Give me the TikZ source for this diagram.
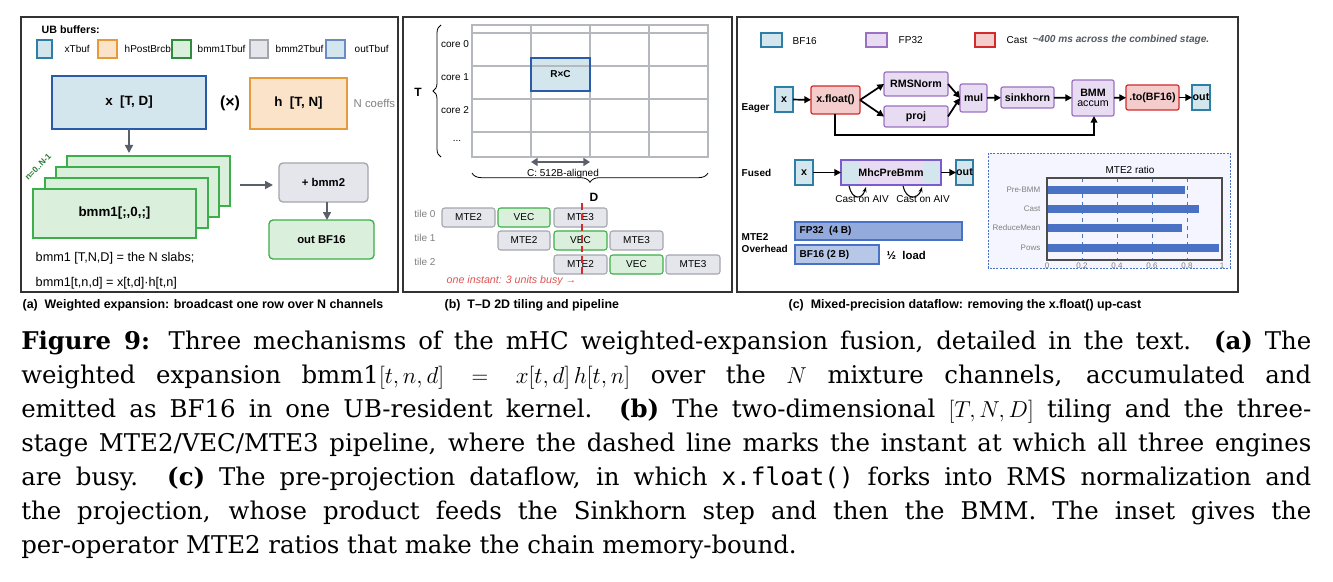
\documentclass[tikz,border=0pt]{standalone}
\usepackage{fontspec}
\setmainfont{DejaVu Serif}
\newfontfamily\lsans{Liberation Sans}
\usetikzlibrary{arrows.meta,decorations.pathreplacing,calc}
\definecolor{blueF}{HTML}{D3E6EE}\definecolor{blueD}{HTML}{2E7EA6}\definecolor{xD}{HTML}{2A5BA8}
\definecolor{orF}{HTML}{FBE3C9}\definecolor{orD}{HTML}{E79A3A}
\definecolor{grF}{HTML}{DAF0DC}\definecolor{grD}{HTML}{3CAE4A}
\definecolor{gyF}{HTML}{E4E6EB}\definecolor{gyD}{HTML}{A2A6AD}
\definecolor{puF}{HTML}{E8DCF2}\definecolor{puD}{HTML}{9B72C2}
\definecolor{rdF}{HTML}{F4CCCC}\definecolor{rdD}{HTML}{D42A2A}
\definecolor{barD}{HTML}{4A72C4}\definecolor{arr}{HTML}{5A606A}
\definecolor{txtG}{HTML}{555A62}
\newcommand\bx[7]{\node[#6,inner sep=0pt,outer sep=0pt,minimum width={(#4-#2)*0.75pt},minimum height={(#5-#3)*0.75pt}] (#1) at ({(#2+#4)/2},{(#3+#5)/2}) {#7};}
\tikzset{
 sm/.style={font=\lsans\fontsize{7.5}{9}\selectfont},
 frame/.style={draw=black!80,line width=0.8pt},
 leg/.style={draw,line width=0.9pt},
 bb/.style={font=\lsans\bfseries\fontsize{8}{9}\selectfont,line width=0.9pt},
 blue/.style={bb,fill=blueF,draw=blueD},
 pur/.style={bb,fill=puF,draw=puD,rounded corners=1.5pt},
 red/.style={bb,fill=rdF,draw=rdD,rounded corners=1.5pt},
 pipe/.style={font=\lsans\fontsize{7.5}{9}\selectfont,rounded corners=2pt,line width=0.8pt},
 pg/.style={pipe,fill=gyF,draw=gyD},
 pv/.style={pipe,fill=grF,draw=grD},
 ga/.style={draw=arr,line width=1.2pt,-{Triangle[length=6pt,width=6pt]}},
 ka/.style={draw=black,line width=1.3pt,-{Triangle[length=5pt,width=5pt]}},
 subcap/.style={font=\lsans\bfseries\fontsize{9.3}{10}\selectfont,anchor=west},
}
\begin{document}
\begin{tikzpicture}[x=0.75pt,y=-0.75pt]
\useasboundingbox[fill=white] (0,0) rectangle (1333,581);
% ================= panel a
\draw[frame] (21,17) rectangle (398,292);
\node[anchor=west,font=\lsans\bfseries\fontsize{8}{9}\selectfont] (ubt) at (37,30) {UB buffers:};
\bx{l1}{37}{40}{52}{58}{leg,fill=blueF,draw=blueD}{}
\node[sm,anchor=west] (l1t) at (60,49) {xTbuf};
\bx{l2}{98}{40}{117}{58}{leg,fill=orF,draw=orD}{}
\node[sm,anchor=west] (l2t) at (120,49) {hPostBrcb};
\bx{l3}{172}{40}{191}{58}{leg,fill=grF,draw=grD!80!black}{}
\node[sm,anchor=west] (l3t) at (193,49) {bmm1Tbuf};
\bx{l4}{250}{40}{268}{58}{leg,fill=gyF,draw=gyD}{}
\node[sm,anchor=west] (l4t) at (271,49) {bmm2Tbuf};
\bx{l5}{326}{40}{345}{58}{leg,fill=blueF,draw=xD!70}{}
\node[sm,anchor=west] (l5t) at (350,49) {outTbuf};
\bx{xb}{52}{76}{206}{129}{fill=blueF,draw=xD,line width=1pt,font=\lsans\bfseries\fontsize{10}{12}\selectfont}{x\ \ [T, D]}
\node[font=\lsans\bfseries\fontsize{12}{14}\selectfont] (tim) at (230,103) {(×)};
\bx{hb}{250}{78}{347}{129}{fill=orF,draw=orD,line width=1pt,font=\lsans\bfseries\fontsize{10}{12}\selectfont}{h\ \ [T, N]}
\node[anchor=west,text=gray,font=\lsans\fontsize{8.5}{10}\selectfont] (nco) at (349,103) {N coeffs};
\bx{s4}{67}{156}{230}{206}{fill=grF,draw=grD,line width=1pt}{}
\bx{s3}{56}{167}{219}{217}{fill=grF,draw=grD,line width=1pt}{}
\bx{s2}{45}{178}{208}{228}{fill=grF,draw=grD,line width=1pt}{}
\bx{s1}{33}{189}{196}{238}{fill=grF,draw=grD,line width=1pt,font=\lsans\bfseries\fontsize{10}{12}\selectfont}{bmm1[;,0,;]}
\node[rotate=45,font=\lsans\bfseries\fontsize{6.3}{8}\selectfont,text=grD!70!black,inner sep=0pt] (nlab) at (38,167) {n=0..N-1};
\draw[ga] (xb.south -| 129,0) -- (129,153);
\coordinate (aS) at (240,185);
\bx{b2}{279}{163}{368}{202}{fill=gyF,draw=gyD,line width=1pt,rounded corners=3pt,font=\lsans\bfseries\fontsize{8.5}{10}\selectfont}{+ bmm2}
\draw[ga] (aS) -- ($(b2.west |- aS)+(-6,0)$);
\bx{ob}{269}{220}{374}{259}{fill=grF,draw=grD,line width=1pt,rounded corners=3pt,font=\lsans\bfseries\fontsize{8.5}{10}\selectfont}{out BF16}
\draw[ga] (b2.south -| 327,0) -- (ob.north -| 327,0);
\node[anchor=west,font=\lsans\fontsize{9.5}{10}\selectfont] (ta1) at (31,258) {bmm1 [T,N,D] = the N slabs;};
\node[anchor=west,font=\lsans\fontsize{9.5}{10}\selectfont] (ta2) at (31,283) {bmm1[t,n,d] = x[t,d]·h[t,n]};
\node[subcap] (ca) at (18,305) {(a)\ \ Weighted expansion: broadcast one row over N channels};
% ================= panel b
\draw[frame] (403,17) rectangle (732,292);
\fill[blueF] (531,58) rectangle (590,91);
\draw[gyD!80,line width=0.8pt] (472,25) grid[xstep=59,ystep=-33] (708,157);
\draw[gyD!80,line width=1.1pt] (472,25) rectangle (708,157);
\bx{rc}{531}{58}{590}{91}{draw=xD,line width=1.5pt,font=\lsans\bfseries\fontsize{7.5}{9}\selectfont}{R×C}
\node[sm] (c0) at (455,44) {core 0};
\node[sm] (c1) at (455,77) {core 1};
\node[sm] (c2) at (455,110) {core 2};
\node[sm] (c3) at (457,141) {...};
\draw[decorate,decoration={brace,amplitude=6pt},line width=0.6pt] (441,157) -- (441,25);
\node[font=\lsans\bfseries\fontsize{9}{10}\selectfont] (T) at (418,92) {T};
\coordinate (da) at (531,162); \coordinate (db) at (590,162);
\draw[draw=arr,line width=1.3pt,{Triangle[length=5pt,width=6pt]}-{Triangle[length=5pt,width=6pt]}] (da) -- (db);
\node[sm] (c512) at (563,174) {C: 512B-aligned};
\draw[decorate,decoration={brace,amplitude=7pt,mirror},line width=0.6pt] (472,173) -- (708,173);
\node[font=\lsans\bfseries\fontsize{9}{10}\selectfont] (D) at (594,197) {D};
\node[sm,text=gray] (t0) at (425,214) {tile 0};
\node[sm,text=gray] (t1) at (425,238) {tile 1};
\node[sm,text=gray] (t2) at (425,262) {tile 2};
\bx{p01}{442}{208}{495}{227}{pg}{MTE2}
\bx{p02}{498}{208}{550}{227}{pv}{VEC}
\bx{p03}{554}{208}{607}{227}{pg}{MTE3}
\bx{p11}{498}{231}{550}{250}{pg}{MTE2}
\bx{p12}{554}{231}{607}{250}{pv}{VEC}
\bx{p13}{610}{231}{663}{250}{pg}{MTE3}
\bx{p21}{554}{255}{607}{274}{pg}{MTE2}
\bx{p22}{610}{255}{663}{274}{pv}{VEC}
\bx{p23}{666}{255}{720}{274}{pg}{MTE3}
\coordinate (rd1) at (582,203); \coordinate (rd2) at (582,277);
\draw[rdD,line width=1pt,dash pattern=on 5pt off 3pt] (rd1) -- (rd2);
\node[text=rdD!80,font=\lsans\itshape\fontsize{8}{9}\selectfont,anchor=west] (oi) at (442,281) {one instant: 3 units busy →};
\node[subcap] (cb) at (440,305) {(b)\ \ T–D 2D tiling and pipeline};
% ================= panel c
\draw[frame] (737,17) rectangle (1238,292);
\bx{lc1}{761}{33}{782}{47}{leg,fill=blueF,draw=blueD}{}
\node[sm,anchor=west] (lc1t) at (788,41) {BF16};
\bx{lc2}{866}{33}{887}{47}{leg,fill=puF,draw=puD}{}
\node[sm,anchor=west] (lc2t) at (894,40) {FP32};
\bx{lc3}{975}{33}{995}{47}{leg,fill=rdF,draw=rdD}{}
\node[sm,anchor=west] (lc3t) at (1002,40) {Cast};
\node[anchor=west,text=txtG,font=\lsans\bfseries\itshape\fontsize{7.6}{8}\selectfont] (lc3n) at (1028,40) {\textasciitilde 400 ms across the combined stage.};
\node[anchor=west,font=\lsans\bfseries\fontsize{7.5}{9}\selectfont] (eag) at (737,108) {Eager};
\bx{ex}{775}{87}{793}{112}{blue}{x}
\bx{ef}{811}{86}{860}{114}{red}{x.float()}
\bx{er}{884}{72}{948}{96}{pur}{RMSNorm}
\bx{ep}{884}{106}{948}{127}{pur}{proj}
\bx{em}{960}{84}{987}{112}{pur}{mul}
\bx{es}{1001}{87}{1054}{108}{pur}{sinkhorn}
\bx{eb}{1072}{80}{1114}{116}{pur,align=center}{BMM\\[-1pt]\mdseries accum}
\bx{et}{1126}{85}{1179}{110}{red}{.to(BF16)}
\bx{eo}{1192}{85}{1210}{110}{blue}{out}
\draw[ka] (ex) -- (ef);
\draw[ka] (ef.east) -- (er.west);
\draw[ka] (ef.east) -- (ep.west);
\draw[ka] (er.east) -- (em.west);
\draw[ka] (ep.east) -- (em.west);
\draw[ka] (em) -- (es);
\draw[ka] (es) -- (eb);
\draw[ka] (eb) -- (et);
\draw[ka] (et) -- (eo);
\draw[ka] (ef.south -| 835,0) -- (835,135) -- (1094,135) -- (eb.south -| 1094,0);
\node[anchor=west,font=\lsans\bfseries\fontsize{7.5}{9}\selectfont] (fus) at (737,173) {Fused};
\bx{fx}{795}{160}{813}{185}{blue}{x}
\fill[blueF] (841,160) rectangle (941,185);
\fill[puF] (859,160) rectangle (923,185);
\bx{fm}{841}{160}{941}{185}{bb,draw=puD!80!blue}{MhcPreBmm}
\bx{fo}{956}{160}{973}{185}{blue}{out}
\draw[ka] (fx) -- (fm);
\draw[ka] (fm) -- (fo);
\coordinate (q1) at (849,186); \coordinate (q2) at (866,187);
\coordinate (q3) at (903,186); \coordinate (q4) at (922,187);
\draw[black,line width=0.8pt,-{Stealth[length=4pt]}] (q1) .. controls (852,200) and (862,200) .. (q2);
\draw[black,line width=0.8pt,-{Stealth[length=4pt]}] (q3) .. controls (906,200) and (918,200) .. (q4);
\node[sm] (ai1) at (862,199) {Cast on AIV};
\node[sm] (ai2) at (923,199) {Cast on AIV};
\node[anchor=west,align=left,font=\lsans\bfseries\fontsize{7.5}{9}\selectfont] (ovh) at (737,243) {MTE2\\Overhead};
\bx{f32}{795}{222}{962}{240}{bb,fill=barD!60,draw=barD}{}
\node[anchor=west,font=\lsans\bfseries\fontsize{7.5}{9}\selectfont] at (f32.west) {FP32\ \ (4 B)};
\bx{b16}{795}{245}{879}{264}{bb,fill=barD!40,draw=barD}{}
\node[anchor=west,font=\lsans\bfseries\fontsize{7.5}{9}\selectfont] at (b16.west) {BF16 (2 B)};
\node[anchor=west,font=\lsans\bfseries\fontsize{8.5}{10}\selectfont] (half) at (882,255) {½\ \ load};
% inset
\draw[barD,fill=blue!4,line width=0.7pt,dash pattern=on 1.5pt off 1pt] (988,153) rectangle (1230,268);
\node[font=\lsans\fontsize{7.5}{9}\selectfont] (mr) at (1130,170) {MTE2 ratio};
\foreach \v in {0.2,0.4,0.6,0.8} \draw[barD,dashed,line width=0.6pt] ({1047+175*\v},178) -- ({1047+175*\v},260);
\foreach \v/\y/\n in {0.79/190/Pre-BMM,0.87/209/Cast,0.77/228/ReduceMean,0.98/248/Pows}{
 \fill[barD] (1047,\y-4) rectangle ({1047+175*\v},\y+4);
 \node[anchor=east,text=gray,font=\lsans\fontsize{6}{7}\selectfont] at (1045,\y) {\n};}
\draw[black!70,line width=0.8pt] (1047,178) rectangle (1222,260);
\foreach \v/\l in {0/0,0.2/0.2,0.4/0.4,0.6/0.6,0.8/0.8,1/1} \node[text=gray,font=\lsans\fontsize{6}{7}\selectfont] at ({1047+175*\v},266) {\l};
\node[subcap] (cc) at (784,305) {(c)\ \ Mixed-precision dataflow: removing the x.float() up-cast};
% ================= caption
\node[anchor=north west,text width=967.5pt,align=justify,inner sep=0pt,font=\fontsize{18.3}{25.5}\selectfont] (capt) at (21,331) {\hyphenpenalty=10000 \textbf{Figure 9:} Three mechanisms of the mHC weighted-expansion fusion, detailed in the text. \textbf{(a)} The\linebreak
weighted expansion bmm1$[t,n,d]=x[t,d]\,h[t,n]$ over the $N$ mixture channels, accumulated and\linebreak
emitted as BF16 in one UB-resident kernel. \textbf{(b)} The two-dimensional $[T,N,D]$ tiling and the three-\linebreak
stage MTE2/VEC/MTE3 pipeline, where the dashed line marks the instant at which all three engines\linebreak
are busy. \textbf{(c)} The pre-projection dataflow, in which {\fontspec{DejaVu Sans Mono}x.float()} forks into RMS normalization and\linebreak
the projection, whose product feeds the Sinkhorn step and then the BMM. The inset gives the\linebreak
per-operator MTE2 ratios that make the chain memory-bound.\par};
\end{tikzpicture}
\end{document}
